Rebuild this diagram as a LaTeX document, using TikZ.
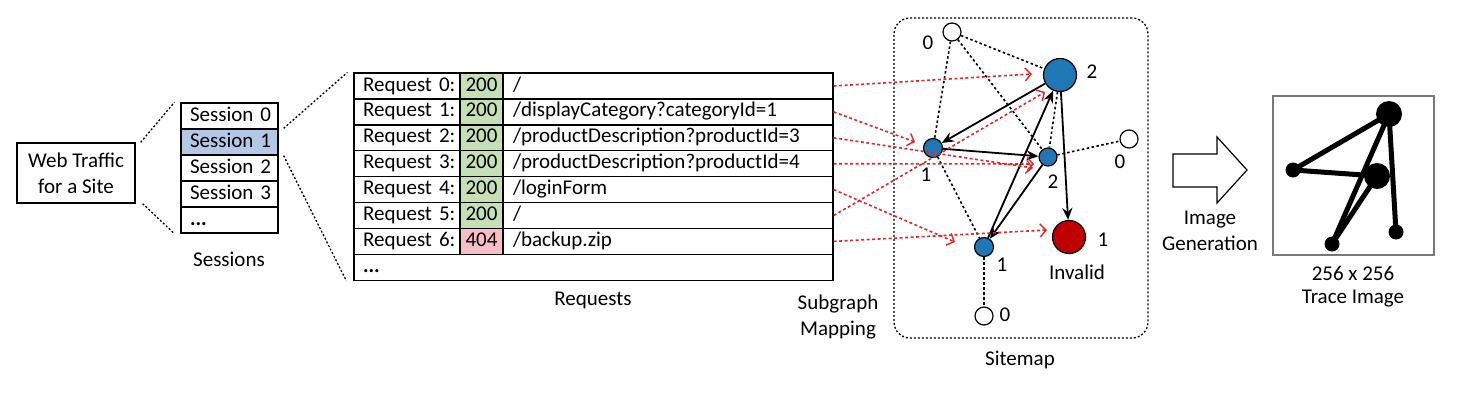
\documentclass[tikz,border=0pt]{standalone}
\usepackage{fontspec}
\setmainfont{Carlito}
\usetikzlibrary{arrows.meta,calc}
\definecolor{sessblue}{RGB}{180,199,231}
\definecolor{okgreen}{RGB}{197,224,180}
\definecolor{errpink}{RGB}{247,190,200}
\definecolor{nodeblue}{RGB}{31,119,180}
\definecolor{nodered}{RGB}{192,0,0}
\definecolor{arrred}{RGB}{222,40,40}
\definecolor{framegray}{RGB}{120,120,120}
\begin{document}
\begin{tikzpicture}[x=1pt,y=-1pt,
  font=\fontsize{21}{26}\selectfont,
  cellstyle/.style={draw, line width=1.3pt, minimum height=25.9pt, text height=14pt, text depth=4pt, inner ysep=0pt},
  labcell/.style={cellstyle, text width=88pt, inner xsep=9pt, align=left},
  codecell/.style={cellstyle, text width=43pt, inner xsep=0pt, align=center},
  pathcell/.style={cellstyle, text width=310pt, inner xsep=10pt, align=left},
  sesscell/.style={cellstyle, text width=79pt, inner xsep=9pt, align=left, minimum height=26pt},
  gnode/.style={circle, draw, line width=1.2pt, inner sep=0pt},
  wnode/.style={gnode, fill=white, minimum size=18pt},
  bnode/.style={gnode, fill=nodeblue, minimum size=19pt},
  bignode/.style={gnode, minimum size=33pt},
  dotline/.style={line width=1.3pt, dash pattern=on 2pt off 2pt},
  dots/.style={line width=1.6pt, dash pattern=on 2.5pt off 2.5pt},
  blk/.style={line width=1.8pt, -{Stealth[length=12pt,width=10pt]}},
  redarr/.style={draw=arrred, line width=1.6pt, dash pattern=on 3pt off 2.5pt, -{Straight Barb[length=6pt,width=13pt,line width=1.4pt]}},
  tdot/.style={circle, fill=black, inner sep=0pt},
  thick5/.style={line width=5pt}
]
\useasboundingbox (0,0) rectangle (1463,402);

% Web traffic box
\node[draw, line width=1.3pt, minimum width=118pt, minimum height=60pt, align=center, inner sep=0pt] (web) at (76,173) {Web Traffic\\for a Site};

% Sessions
\node[sesscell] (s0) at (229.5,116) {\mbox{Session 0}};
\node[sesscell, fill=sessblue] (s1) at (229.5,142) {\mbox{Session 1}};
\node[sesscell] (s2) at (229.5,168) {\mbox{Session 2}};
\node[sesscell] (s3) at (229.5,194) {\mbox{Session 3}};
\node[sesscell] (s4) at (229.5,220) {\textbf{...}};
\node (sessions) at (229,259) {Sessions};

% Requests table
\node[labcell] (L0) at (407,86) {\mbox{Request 0:}};
\node[codecell, fill=okgreen] (C0) at (481.5,86) {200};
\node[pathcell] (P0) at (668,86) {/};
\node[labcell] (L1) at (407,111.9) {\mbox{Request 1:}};
\node[codecell, fill=okgreen] (C1) at (481.5,111.9) {200};
\node[pathcell] (P1) at (668,111.9) {/displayCategory?categoryId=1};
\node[labcell] (L2) at (407,137.8) {\mbox{Request 2:}};
\node[codecell, fill=okgreen] (C2) at (481.5,137.8) {200};
\node[pathcell] (P2) at (668,137.8) {/productDescription?productId=3};
\node[labcell] (L3) at (407,163.7) {\mbox{Request 3:}};
\node[codecell, fill=okgreen] (C3) at (481.5,163.7) {200};
\node[pathcell] (P3) at (668,163.7) {/productDescription?productId=4};
\node[labcell] (L4) at (407,189.6) {\mbox{Request 4:}};
\node[codecell, fill=okgreen] (C4) at (481.5,189.6) {200};
\node[pathcell] (P4) at (668,189.6) {/loginForm};
\node[labcell] (L5) at (407,215.5) {\mbox{Request 5:}};
\node[codecell, fill=okgreen] (C5) at (481.5,215.5) {200};
\node[pathcell] (P5) at (668,215.5) {/};
\node[labcell] (L6) at (407,241.4) {\mbox{Request 6:}};
\node[codecell, fill=errpink] (C6) at (481.5,241.4) {404};
\node[pathcell] (P6) at (668,241.4) {/backup.zip};
\node[cellstyle, text width=461pt, inner xsep=9pt, align=left] (Pend) at (593.5,267.3) {\textbf{...}};
\node (requests) at (593,300) {Requests};

% zoom lines
\draw[dotline] ($(web.north east)+(5,0)$) -- ($(s0.north west)+(-6,0)$);
\draw[dotline] ($(web.south east)+(7,0)$) -- ($(s4.south west)+(-6,0)$);
\draw[dotline] ($(s1.north east)+(5,0)$) -- ($(L0.north west)+(-6,0)$);
\draw[dotline] ($(s1.south east)+(5,0)$) -- ($(Pend.south west)+(-7,0)$);

% Sitemap frame
\node[draw, line width=1.3pt, dash pattern=on 2pt off 2pt, rounded corners=16pt, minimum width=254pt, minimum height=320pt] (smbox) at (1021,178) {};
\node (sitemap) at (1020,360) {Sitemap};
\node[align=center] (mapping) at (838,317) {Subgraph\\Mapping};

% Sitemap nodes
\node[wnode] (t0) at (952,32) {};
\node[bignode, fill=nodeblue] (big2) at (1060,75) {};
\node[bnode] (l1) at (933,148) {};
\node[bnode, minimum size=18pt] (m2) at (1048,157) {};
\node[wnode] (r0) at (1129,139) {};
\node[bignode, fill=nodered] (inv) at (1069,237) {};
\node[bnode] (b1) at (984,247) {};
\node[wnode] (b0) at (984,316) {};

\node (lt0) at (928,43) {0};
\node (lbig2) at (1092,72) {2};
\node (ll1) at (926,175) {1};
\node (lm2) at (1053,182) {2};
\node (lr0) at (1120,162) {0};
\node (linv) at (1103,240) {1};
\node (invalid) at (1077,272) {Invalid};
\node (lb1) at (1002,265) {1};
\node (lb0) at (1005,315) {0};

% dotted edges
\draw[dots] (t0) -- (l1);
\draw[dots] (t0) -- (big2);
\draw[dots] (t0) -- (m2);
\draw[dots] (big2) -- (m2);
\draw[dots] (m2) -- (r0);
\draw[dots] (l1) -- (b1);
\draw[dots] (b1) -- (b0);

% solid arrows
\draw[blk] (big2) -- (l1);
\draw[blk] (l1) -- (m2);
\draw[blk] (big2) -- (inv);
\draw[blk] (m2) -- (b1);
\draw[blk] (b1) -- (big2);

% red mapping arrows
\draw[redarr] (P0.east) -- ($(big2)+(-28,-1)$);
\draw[redarr] (P1.east) -- ($(l1)+(-18,-6)$);
\draw[redarr] (P2.east) -- ($(m2)+(-15,11)$);
\draw[redarr] (P3.east) -- ($(m2)+(-14,7)$);
\draw[redarr] (P4.east) -- ($(b1)+(-29,-5)$);
\draw[redarr] (P5.east) -- ($(big2)+(-15,17)$);
\draw[redarr] (P6.east) -- ($(inv)+(-22,-7)$);

% block arrow
\draw[line width=1.2pt] (1173,154) -- (1217,154) -- (1217,137) -- (1247,170) -- (1217,203) -- (1217,187) -- (1173,187) -- cycle;
\node[align=center] (imggen) at (1210,231) {Image\\Generation};

% trace image
\node[draw=framegray, line width=1.3pt, minimum width=161pt, minimum height=159pt] (tbox) at (1353.5,175.5) {};
\node[tdot, minimum size=26pt] (ta) at (1389,114) {};
\node[tdot, minimum size=15pt] (tb) at (1293,170) {};
\node[tdot, minimum size=26pt] (tc) at (1377,176) {};
\node[tdot, minimum size=15pt] (td) at (1332,244) {};
\node[tdot, minimum size=15pt] (te) at (1396,232) {};
\draw[thick5] (ta.center) -- (tb.center);
\draw[thick5] (tb.center) -- (tc.center);
\draw[thick5] (ta.center) -- (td.center);
\draw[thick5] (tc.center) -- (td.center);
\draw[thick5] (ta.center) -- (te.center);
\node[align=center, font=\fontsize{21}{23}\selectfont] (tlabel) at (1353,287) {256 x 256\\Trace Image};
\end{tikzpicture}
\end{document}
